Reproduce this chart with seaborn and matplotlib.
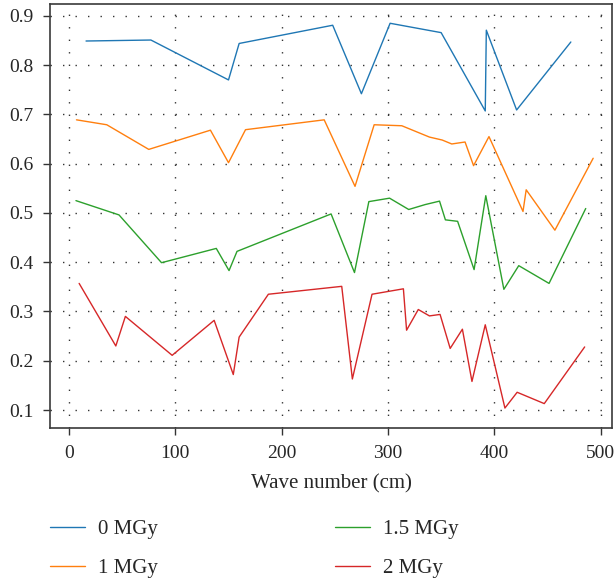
import matplotlib
matplotlib.use("Agg")
import matplotlib.pyplot as plt
import seaborn as sns
import pandas as pd

x_0 = [16, 77, 150, 160, 248, 275, 302, 350, 391.5, 392.5, 421, 472]
y_0 = [0.849, 0.851, 0.770, 0.844, 0.881, 0.742, 0.885, 0.866, 0.707, 0.871, 0.709, 0.847]

x_1 = [7, 35.5, 75, 133, 150, 166, 240, 269, 287, 313, 339, 351, 360, 372.5, 380.5, 395, 427, 430, 457, 493]
y_1 = [0.689, 0.679, 0.629, 0.668, 0.602, 0.669, 0.689, 0.554, 0.679, 0.677, 0.654, 0.648, 0.640, 0.644,
       0.596, 0.655, 0.503, 0.547, 0.465, 0.611]

x_15 = [6.5, 47, 87, 138.5, 150.5, 158, 246.5, 268.5, 282, 301.5, 319.5, 335, 348.5, 354, 365.5, 381, 392,
        409, 423, 451.5, 486]
y_15 = [0.525, 0.496, 0.399, 0.428, 0.383, 0.422, 0.498, 0.379, 0.523, 0.530, 0.507, 0.517, 0.524, 0.486,
        0.483, 0.385, 0.535, 0.345, 0.393, 0.357, 0.509]

x_2 = [9.5, 44, 53, 97, 136.5, 154.5, 160, 187.5, 256.5, 266.5, 285, 314.5, 317.5, 328.5, 339, 349, 358.5,
       370, 379, 391.5, 410, 421.5, 447, 485]
y_2 = [0.357, 0.230, 0.290, 0.211, 0.282, 0.172, 0.248, 0.335, 0.351, 0.163, 0.335, 0.346, 0.262, 0.304,
       0.291, 0.294, 0.225, 0.264, 0.158, 0.273, 0.104, 0.136, 0.113, 0.228]

series_names = ["0 MGy", "1 MGy", "1.5 MGy", "2 MGy"]
colors = ["#1f77b4", "#ff7f0e", "#2ca02c", "#d62728"]

frames = []
for name, xs, ys in zip(series_names, [x_0, x_1, x_15, x_2], [y_0, y_1, y_15, y_2]):
    frames.append(pd.DataFrame({"x": xs, "y": ys, "dose": name}))
df = pd.concat(frames, ignore_index=True)

sns.set_style("white")
plt.rcParams["font.family"] = ["Liberation Serif", "DejaVu Serif"]

fig = plt.figure(figsize=(6.16, 5.80), dpi=100)
ax = fig.add_axes([0.081, 0.262, 0.913, 0.731])

sns.lineplot(data=df, x="x", y="y", hue="dose", hue_order=series_names, palette=colors,
             estimator=None, sort=False, linewidth=1.0, ax=ax, legend=True)

ax.set_xlim(-18, 511)
ax.set_ylim(0.0634, 0.924)
ax.set_xticks([0, 100, 200, 300, 400, 500])
ax.set_yticks([0.1, 0.2, 0.3, 0.4, 0.5, 0.6, 0.7, 0.8, 0.9])
ax.set_yticklabels(["0.1", "0.2", "0.3", "0.4", "0.5", "0.6", "0.7", "0.8", "0.9"])
ax.grid(True, color="#333333", linestyle=(0, (1, 8)), linewidth=1.0)
for s in ax.spines.values():
    s.set_color("#3a3a3a")
    s.set_linewidth(1.2)
ax.tick_params(axis="x", bottom=True, direction="out", length=5, width=1, color="#333333",
               labelsize=14, pad=7)
ax.tick_params(axis="y", left=True, direction="out", length=5, width=1, color="#333333",
               labelsize=14, pad=7)
ax.set_xlabel("Wave number (cm)", fontsize=15, labelpad=9)
ax.set_ylabel("")

handles, labels = ax.get_legend_handles_labels()
ax.get_legend().remove()
fig.legend(handles, labels, loc="upper left", bbox_to_anchor=(0.051, 0.137), ncol=2, frameon=False,
           fontsize=15, handlelength=1.68, columnspacing=8.5, handletextpad=0.62, labelspacing=0.94)

fig.savefig("out.png", dpi=100)
